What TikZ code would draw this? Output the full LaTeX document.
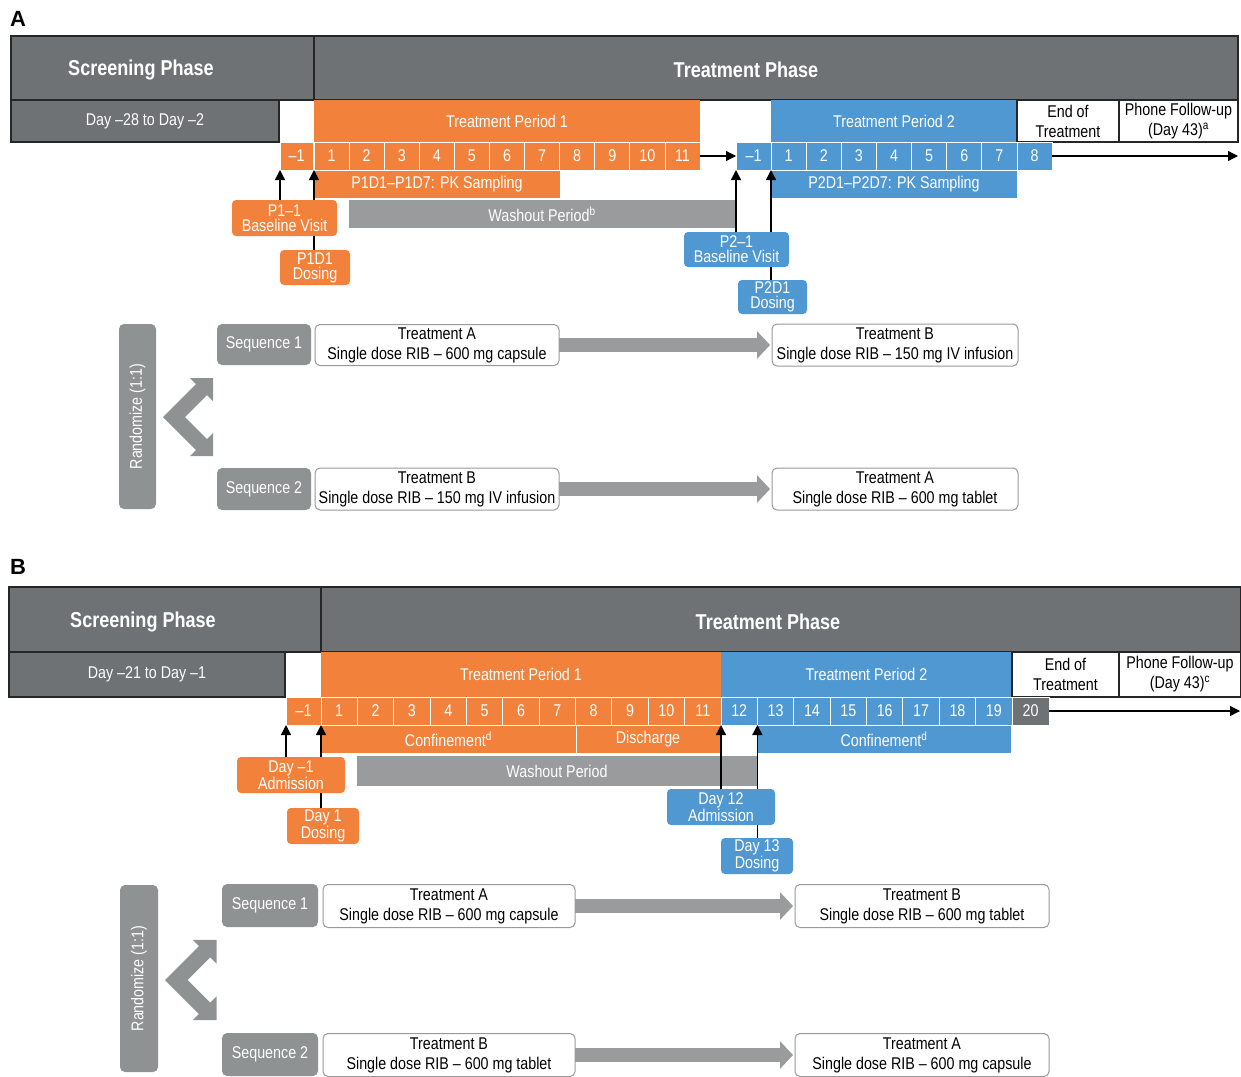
\documentclass[tikz,border=0pt]{standalone}
\usepackage{fontspec}
\setmainfont{Liberation Sans}[FakeStretch=0.84]
\newfontfamily\widefont{Liberation Sans}
\usetikzlibrary{arrows.meta}
\definecolor{orng}{HTML}{F2823B}
\definecolor{blu}{HTML}{4F98D2}
\definecolor{dgray}{HTML}{6E7274}
\definecolor{lgray}{HTML}{999B9C}
\definecolor{sgray}{HTML}{8F9293}
\begin{document}
\begin{tikzpicture}[x=1pt,y=-1pt,font=\fontsize{17}{15}\selectfont]
    \tikzstyle{box}=[inner sep=0pt,outer sep=0pt,text=white,align=center]
    \tikzstyle{hdr}=[box,fill=dgray,draw=black!85,line width=1.2pt]
    \tikzstyle{hdrtext}=[text=white,font=\fontsize{21.5}{20}\selectfont\bfseries]
    \tikzstyle{panel}=[font=\widefont\fontsize{22}{22}\selectfont\bfseries]
    \tikzstyle{cell}=[box,draw=white,line width=0.8pt,minimum height=28pt]
    \tikzstyle{note}=[box,fill=white,draw=black!85,line width=1.2pt,text=black,font=\fontsize{17}{20}\selectfont]
    \tikzstyle{visit}=[box,rounded corners=4pt,minimum height=36pt]
    \tikzstyle{seq}=[box,rounded corners=5pt,fill=sgray,minimum height=42pt]
    \tikzstyle{treat}=[box,rounded corners=5pt,fill=white,draw=black!40,line width=1pt,text=black,minimum height=42pt,font=\fontsize{17}{20}\selectfont]
    \tikzstyle{bigarrow}=[line width=14pt,lgray,shorten >=2pt,-{Triangle[length=13pt,width=27pt]}]
    \tikzstyle{upar}=[line width=1.3pt,-{Triangle[length=10pt,width=10pt]}]
    \tikzstyle{timeline}=[line width=1.3pt,-{Triangle[length=10pt,width=10pt]}]

    \useasboundingbox (0,0) rectangle (1241,1076);

    % panel A
    \node[panel] (labA) at (18,19) {A};
    \node[hdr,minimum width=303pt,minimum height=64pt] (scrA) at (162.5,68) {};
    \node[hdr,minimum width=924pt,minimum height=64pt] (trtA) at (776,68) {};
    \node[hdrtext] at (141,70) {Screening Phase};
    \node[hdrtext] at (746,70) {Treatment Phase};

    \node[hdr,minimum width=268pt,minimum height=42pt] (dayA) at (145,121) {Day --28 to Day --2};
    \node[box,fill=orng,minimum width=386pt,minimum height=42pt] (tp1A) at (507,121) {Treatment Period 1};
    \node[box,fill=blu,minimum width=246pt,minimum height=42pt] (tp2A) at (894,121) {Treatment Period 2};
    \node[note,minimum width=102pt,minimum height=42pt] (eotA) at (1068,121) {End of\\Treatment};
    \node[note,minimum width=119pt,minimum height=42pt] (fupA) at (1178.5,121) {Phone Follow-up\\(Day 43)\textsuperscript{a}};

    \node[cell,fill=orng,minimum width=33pt] (m1A) at (296.5,156) {--1};
    \foreach \i in {1,...,11}
        \node[cell,fill=orng,minimum width=35.1pt] (a\i) at ({314+35.09*(\i-0.5)},156) {\i};
    \node[cell,fill=blu,minimum width=35pt] (m2A) at (753.5,156) {--1};
    \foreach \i in {1,...,7}
        \node[cell,fill=blu,minimum width=35.14pt] (c\i) at ({771+35.14*(\i-0.5)},156) {\i};
    \node[cell,fill=blu,minimum width=35pt] (c8) at (1034.5,156) {8};
    \coordinate (endA) at (1238,156);
    \draw[timeline] (a11.east) -- (m2A.west);
    \draw[timeline] (c8.east) -- (endA);

    \node[cell,fill=orng,minimum width=246pt] (pk1A) at (437,184) {P1D1--P1D7: PK Sampling};
    \node[cell,fill=blu,minimum width=246pt] (pk2A) at (894,184) {P2D1--P2D7: PK Sampling};
    \node[box,fill=lgray,minimum width=386pt,minimum height=28pt] (wshA) at (542,214) {Washout Period\textsuperscript{b}};

    \node[visit,fill=orng,minimum width=105pt] (v1A) at (284.5,218) {P1--1\\Baseline Visit};
    \node[visit,fill=orng,minimum width=70pt,minimum height=35pt] (d1A) at (315,267.5) {P1D1\\Dosing};
    \node[visit,fill=blu,minimum width=105pt,minimum height=35pt] (v2A) at (736.5,249.5) {P2--1\\Baseline Visit};
    \node[visit,fill=blu,minimum width=69pt,minimum height=34pt] (d2A) at (772.5,297) {P2D1\\Dosing};

    \draw[upar] (m1A.south west |- v1A.north) -- (m1A.south west);
    \draw[line width=1.3pt] (a1.south west |- d1A.north) -- (a1.south west |- v1A.south);
    \draw[upar] (a1.south west |- v1A.north) -- (a1.south west);
    \draw[upar] (m2A.south west |- v2A.north) -- (m2A.south west);
    \draw[line width=1.3pt] (c1.south west |- d2A.north) -- (c1.south west |- v2A.south);
    \draw[upar] (c1.south west |- v2A.north) -- (c1.south west);

    \node[seq,rotate=90,minimum width=185pt,minimum height=37pt] (rndA) at (137.5,416.5) {Randomize (1:1)};
    \fill[sgray,shift={(163,417)}] (0,0) -- (33,-33) -- (27,-39) -- (50,-39) -- (50,-16) -- (44,-22)
        -- (22,0) -- (44,22) -- (50,16) -- (50,39) -- (27,39) -- (33,33) -- cycle;

    \node[seq,minimum width=94pt,minimum height=41pt] (s1A) at (264,344.5) {Sequence 1};
    \node[treat,minimum width=244pt,minimum height=41pt] (t1A) at (437,345) {Treatment A\\Single dose RIB -- 600 mg capsule};
    \node[treat,minimum width=246pt] (t2A) at (895,345) {Treatment B\\Single dose RIB -- 150 mg IV infusion};
    \draw[bigarrow] (t1A.east) -- (t2A.west);

    \node[seq,minimum width=94pt] (s2A) at (264,489) {Sequence 2};
    \node[treat,minimum width=244pt] (t3A) at (437,489) {Treatment B\\Single dose RIB -- 150 mg IV infusion};
    \node[treat,minimum width=246pt] (t4A) at (895,489) {Treatment A\\Single dose RIB -- 600 mg tablet};
    \draw[bigarrow] (t3A.east) -- (t4A.west);

    % panel B
    \node[panel] (labB) at (18,567) {B};
    \node[hdr,minimum width=312pt,minimum height=65pt] (scrB) at (165,619.5) {};
    \node[hdr,minimum width=920pt,minimum height=65pt] (trtB) at (781,619.5) {};
    \node[hdrtext] at (143,621.5) {Screening Phase};
    \node[hdrtext] at (768,621.5) {Treatment Phase};

    \node[hdr,minimum width=276pt,minimum height=45pt] (dayB) at (147,674.5) {Day --21 to Day --1};
    \node[box,fill=orng,minimum width=400pt,minimum height=45pt] (tp1B) at (521,674.5) {Treatment Period 1};
    \node[box,fill=blu,minimum width=291pt,minimum height=45pt] (tp2B) at (866.5,674.5) {Treatment Period 2};
    \node[note,minimum width=107pt,minimum height=45pt] (eotB) at (1065.5,674.5) {End of\\Treatment};
    \node[note,minimum width=122pt,minimum height=45pt] (fupB) at (1180,674.5) {Phone Follow-up\\(Day 43)\textsuperscript{c}};

    \node[cell,fill=orng,minimum width=35pt] (m1B) at (303.5,711) {--1};
    \foreach \i in {1,...,11}
        \node[cell,fill=orng,minimum width=36.36pt] (b\i) at ({321+36.36*(\i-0.5)},711) {\i};
    \foreach \i in {12,...,19}
        \node[cell,fill=blu,minimum width=36.38pt] (b\i) at ({721+36.375*(\i-11.5)},711) {\i};
    \node[cell,fill=dgray,minimum width=37pt] (b20) at (1030.5,711) {20};
    \coordinate (endB) at (1240,711);
    \draw[timeline] (b20.east) -- (endB);

    \node[cell,fill=orng,minimum width=255pt] (cf1B) at (448.5,739) {Confinement\textsuperscript{d}};
    \node[cell,fill=orng,minimum width=144pt] (disB) at (648,739) {Discharge};
    \node[cell,fill=blu,minimum width=254pt] (cf2B) at (884,739) {Confinement\textsuperscript{d}};
    \node[box,fill=lgray,minimum width=400pt,minimum height=30pt] (wshB) at (557,771) {Washout Period};

    \node[visit,fill=orng,minimum width=108pt] (v1B) at (291,775) {Day --1\\Admission};
    \node[visit,fill=orng,minimum width=72pt] (d1B) at (323,826) {Day 1\\Dosing};
    \node[visit,fill=blu,minimum width=108pt] (v2B) at (721,807) {Day 12\\Admission};
    \node[visit,fill=blu,minimum width=72pt] (d2B) at (757,856) {Day 13\\Dosing};

    \draw[upar] (m1B.south west |- v1B.north) -- (m1B.south west);
    \draw[line width=1.3pt] (b1.south west |- d1B.north) -- (b1.south west |- v1B.south);
    \draw[upar] (b1.south west |- v1B.north) -- (b1.south west);
    \draw[upar] (b12.south west |- v2B.north) -- (b12.south west);
    \draw[line width=1.3pt] (b13.south west |- d2B.north) -- (b13.south west |- v2B.south);
    \draw[upar] (b13.south west |- v2B.north) -- (b13.south west);

    \node[seq,rotate=90,minimum width=187pt,minimum height=38pt] (rndB) at (139,978.5) {Randomize (1:1)};
    \fill[sgray,shift={(165,980)},scale=1.03] (0,0) -- (33,-33) -- (27,-39) -- (50,-39) -- (50,-16) -- (44,-22)
        -- (22,0) -- (44,22) -- (50,16) -- (50,39) -- (27,39) -- (33,33) -- cycle;

    \node[seq,minimum width=96pt,minimum height=43pt] (s1B) at (270,905.5) {Sequence 1};
    \node[treat,minimum width=252pt,minimum height=43pt] (t1B) at (449,906) {Treatment A\\Single dose RIB -- 600 mg capsule};
    \node[treat,minimum width=254pt,minimum height=43pt] (t2B) at (922,906) {Treatment B\\Single dose RIB -- 600 mg tablet};
    \draw[bigarrow] (t1B.east) -- (t2B.west);

    \node[seq,minimum width=96pt,minimum height=43pt] (s2B) at (270,1054.5) {Sequence 2};
    \node[treat,minimum width=252pt,minimum height=43pt] (t3B) at (449,1055) {Treatment B\\Single dose RIB -- 600 mg tablet};
    \node[treat,minimum width=254pt,minimum height=43pt] (t4B) at (922,1055) {Treatment A\\Single dose RIB -- 600 mg capsule};
    \draw[bigarrow] (t3B.east) -- (t4B.west);
\end{tikzpicture}
\end{document}
